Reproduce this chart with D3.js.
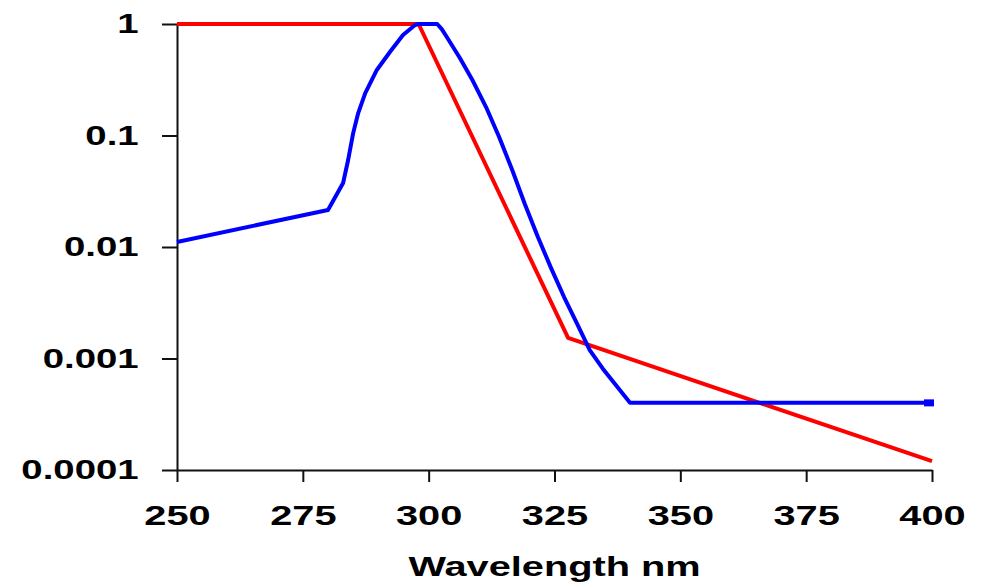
<!DOCTYPE html>
<html>
<head>
<meta charset="utf-8">
<script src="https://cdn.jsdelivr.net/npm/d3@7"></script>
<style>
  body { margin: 0; background: #fff; }
  text { font-family: "Liberation Sans", Arial, sans-serif; font-weight: bold; }
</style>
</head>
<body>
<div id="chart"></div>
<script>
// wavelength ticks and log ticks
var xTicks = [250, 275, 300, 325, 350, 375, 400];
var yTicks = [0.0001, 0.001, 0.01, 0.1, 1];
var yTickLabels = ['0.0001', '0.001', '0.01', '0.1', '1'];

// red series (straight segments)
var redWave = [250, 298, 327.7, 400];
var redValue = [1, 1, 0.00153, 0.00012];

// blue series
var blueWave = [250, 280, 283, 284, 285, 286, 287.4, 289.7, 292.3, 294.9, 297.3, 298, 300, 301.7, 302.6,
                303.6, 306.2, 308.8, 311.4, 314, 316.6, 319.1, 321.7, 324.3, 326.9, 329.5, 332, 334.6, 340, 400];
var blueValue = [0.0111, 0.0215, 0.0375, 0.0603, 0.105, 0.159, 0.24, 0.387, 0.561, 0.797, 0.98, 1, 1, 1, 0.9,
                 0.765, 0.496, 0.308, 0.18, 0.097, 0.049, 0.0243, 0.0123, 0.0065, 0.00356, 0.00204, 0.00119, 0.00081, 0.0004, 0.0004];

var width = 984, height = 583;
var margin = {top: 24, right: 52, bottom: 113, left: 177};

var svg = d3.select('#chart').append('svg')
  .attr('width', width)
  .attr('height', height);

var x = d3.scaleLinear().domain([250, 400]).range([margin.left, width - margin.right]);
var y = d3.scaleLog().domain([0.0001, 1]).range([height - margin.bottom, margin.top]);

// x axis
var xAxis = svg.append('g')
  .attr('transform', 'translate(0,' + (height - margin.bottom) + ')')
  .call(d3.axisBottom(x).tickValues(xTicks).tickSize(12).tickSizeOuter(0).tickFormat(d3.format('d')));
xAxis.selectAll('text')
  .attr('y', 35)
  .attr('font-size', 28)
  .attr('fill', '#000')
  .attr('transform', 'scale(1.42,1)');

// y axis
var yAxis = svg.append('g')
  .attr('transform', 'translate(' + margin.left + ',0)')
  .call(d3.axisLeft(y).tickValues(yTicks).tickSize(15).tickSizeOuter(0)
    .tickFormat(function(d, i) { return yTickLabels[i]; }));
yAxis.selectAll('text')
  .attr('x', -28)
  .attr('font-size', 28)
  .attr('fill', '#000')
  .attr('transform', 'scale(1.37,1)');

svg.selectAll('.domain, .tick line')
  .attr('stroke', '#111')
  .attr('stroke-width', 2);

// lines
var line = d3.line()
  .x(function(d) { return x(d[0]); })
  .y(function(d) { return y(d[1]); });

var redData = redWave.map(function(w, i) { return [w, redValue[i]]; });
var blueData = blueWave.map(function(w, i) { return [w, blueValue[i]]; });

svg.append('path')
  .datum(redData)
  .attr('d', line)
  .attr('fill', 'none')
  .attr('stroke', '#ff0000')
  .attr('stroke-width', 4)
  .attr('stroke-linejoin', 'round');

svg.append('path')
  .datum(blueData)
  .attr('d', line)
  .attr('fill', 'none')
  .attr('stroke', '#0000ff')
  .attr('stroke-width', 4)
  .attr('stroke-linejoin', 'round');

// end marker on blue series
var last = blueData[blueData.length - 1];
svg.append('rect')
  .attr('x', x(last[0]) - 8)
  .attr('y', y(last[1]) - 3.5)
  .attr('width', 10)
  .attr('height', 7)
  .attr('fill', '#0000ff');

// axis title
svg.append('text')
  .attr('transform', 'translate(' + ((margin.left + width - margin.right) / 2) + ',576) scale(1.42,1)')
  .attr('text-anchor', 'middle')
  .attr('font-size', 28)
  .attr('fill', '#000')
  .text('Wavelength nm');
</script>
</body>
</html>
